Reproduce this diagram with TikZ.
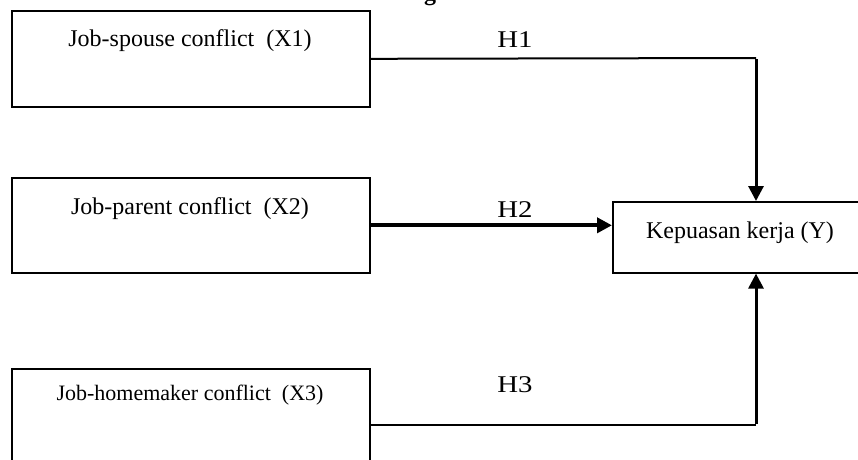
\documentclass[tikz,border=0pt]{standalone}
\usepackage{fontspec}
\setmainfont{Liberation Serif}
\usetikzlibrary{arrows.meta}
\tikzset{
  box/.style={draw, line width=1.6pt, anchor=north west, inner sep=0pt},
  boxtext/.style={anchor=base, inner sep=0pt, font=\fontsize{24}{28}\selectfont},
  hlabel/.style={anchor=base, inner sep=0pt, xscale=1.2, font=\fontsize{24}{28}\selectfont},
  thinline/.style={line width=2pt},
  thickarrow/.style={line width=3pt, -{Triangle[length=15pt,width=15pt]}},
}
\begin{document}
\begin{tikzpicture}[x=1pt,y=-1pt]
\useasboundingbox (0,0) rectangle (858,459);
% partially visible title letter
\node[anchor=base, inner sep=0pt, font=\fontsize{24}{28}\selectfont\bfseries] (title) at (430,0) {g};
% boxes
\node[box, minimum width=358pt, minimum height=96pt] (x1) at (11,10) {};
\node[box, minimum width=358pt, minimum height=95pt] (x2) at (11,177) {};
\node[box, minimum width=358pt, minimum height=114pt] (x3) at (11,368) {};
\node[box, minimum width=260pt, minimum height=71pt] (y) at (612,201) {};
% texts
\node[boxtext] (x1t) at (190,46) {Job-spouse conflict\ \ (X1)};
\node[boxtext] (x2t) at (190,214) {Job-parent conflict\ \ (X2)};
\node[boxtext, font=\fontsize{22}{26}\selectfont] (x3t) at (190,400) {Job-homemaker conflict\ \ (X3)};
\node[boxtext] (yt) at (740,238) {Kepuasan kerja (Y)};
% H labels
\node[hlabel] (h1) at (515,47.5) {H1};
\node[hlabel] (h2) at (515,217) {H2};
\node[hlabel] (h3) at (515,392) {H3};
% connectors
\coordinate (c1) at (756,58);
\coordinate (c3) at (756,425);
\draw[thinline] (x1.east) -- (c1);
\draw[thickarrow] ([yshift=-1pt]c1) -- (y.north -| c1);
\draw[line width=4pt, -{Triangle[length=15pt,width=15pt]}] (x2.east) -- (x2.east -| y.west);
\draw[thinline] (x3.east |- c3) -- (c3);
\draw[thickarrow] ([yshift=1pt]c3) -- (y.south -| c3);
\end{tikzpicture}
\end{document}
